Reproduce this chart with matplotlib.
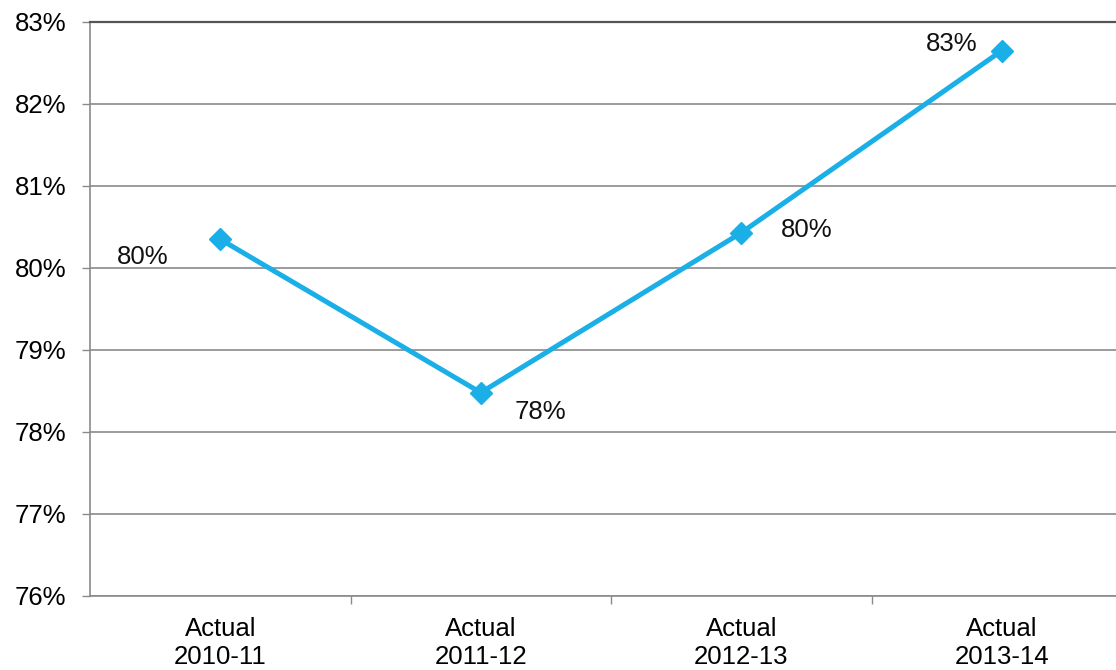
import matplotlib
matplotlib.use("Agg")
import matplotlib.pyplot as plt
from matplotlib.ticker import FuncFormatter, FixedLocator

plt.rcParams['font.family'] = ['Liberation Sans', 'DejaVu Sans']

categories = ["Actual\n2010-11", "Actual\n2011-12", "Actual\n2012-13", "Actual\n2013-14"]
values = [80.35, 78.48, 80.43, 82.65]
label_offsets = [(-56, -13), (43, -14), (47, 2), (-36, 5)]  # points offsets for data labels

fig = plt.figure(figsize=(11.16, 6.7), dpi=100)
ax = fig.add_axes([90/1116, 74/670, 1026/1116, 574/670])

x = list(range(len(categories)))
color = "#1AAFE6"
ax.plot(x, values, color=color, linewidth=3.6, marker="D", markersize=11,
        markeredgecolor=color, markerfacecolor=color, zorder=3, clip_on=False)

for xi, v, off in zip(x, values, label_offsets):
    ax.annotate(f"{v:.0f}%", (xi, v), xytext=off, textcoords="offset points",
                ha="center", va="center", fontsize=18.5, color="#111111")

ax.set_ylim(76, 83)
ax.set_xlim(-0.5, -0.5 + 1026/260.5)
ax.yaxis.set_major_locator(FixedLocator(range(76, 84)))
ax.yaxis.set_major_formatter(FuncFormatter(lambda v, p: f"{v:.0f}%"))
ax.grid(axis="y", color="#8a8a8a", linewidth=1.2)
ax.set_axisbelow(True)

ax.set_xticks(x)
ax.set_xticklabels(categories, fontsize=18.5, linespacing=1.2)
ax.tick_params(axis="x", length=0, pad=15)
ax.set_xticks([0.5, 1.5, 2.5], minor=True)
ax.tick_params(axis="x", which="minor", length=6, color="#8a8a8a", width=1)
ax.tick_params(axis="y", length=6, color="#8a8a8a", width=1, labelsize=18.5, pad=11)

ax.spines["right"].set_visible(False)
ax.spines["top"].set_color("#555555")
ax.spines["top"].set_linewidth(1.6)
ax.spines["left"].set_color("#8a8a8a")
ax.spines["bottom"].set_color("#8a8a8a")
ax.spines["left"].set_linewidth(1.2)
ax.spines["bottom"].set_linewidth(1.2)

fig.savefig("out.png", dpi=100, facecolor="white")
